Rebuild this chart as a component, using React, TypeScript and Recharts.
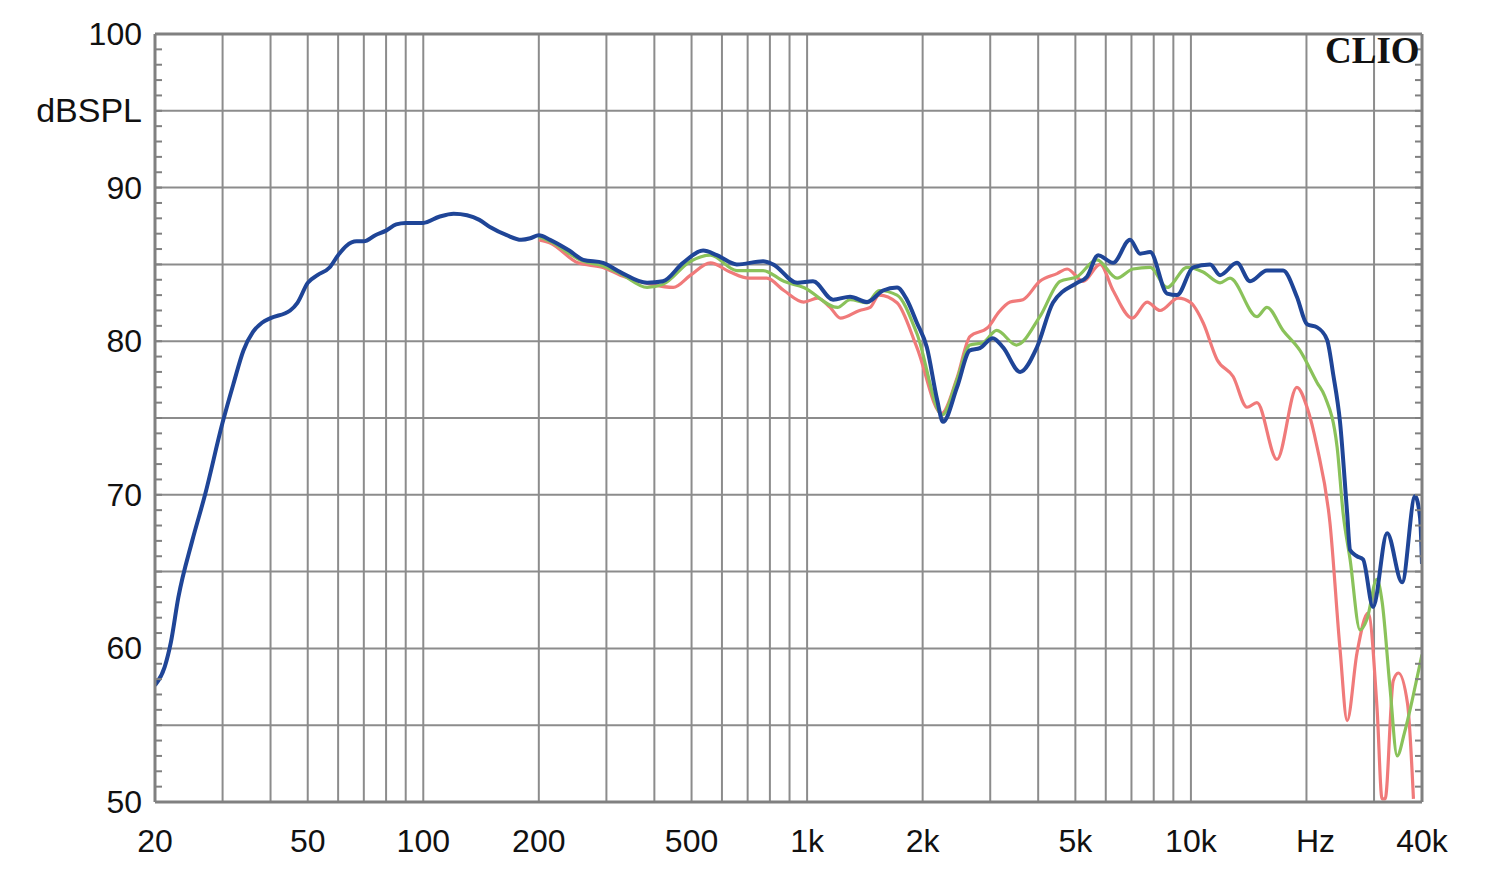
import React from 'react';
import { LineChart, Line, XAxis, YAxis, CartesianGrid } from 'recharts';

// Frequency response curves: [frequency Hz, dB SPL]
const blueCurve: [number, number][] = [
  [20, 57.6], [21.2, 58.8], [22, 60.4], [23, 63.3], [25, 67.0], [27, 70.0], [30, 74.7], [32, 77.2],
  [34, 79.4], [36, 80.6], [38, 81.2], [40, 81.5], [45, 82.0], [47, 82.5], [50, 83.8], [53, 84.3],
  [57, 84.8], [60, 85.6], [63, 86.2], [67, 86.5], [70, 86.5], [75, 86.9], [80, 87.2], [85, 87.6],
  [90, 87.7], [100, 87.7], [110, 88.1], [120, 88.3], [130, 88.2], [140, 87.9], [150, 87.4],
  [165, 86.9], [180, 86.6], [190, 86.7], [200, 86.9], [214, 86.6], [240, 85.9], [261, 85.3],
  [294, 85.1], [326, 84.5], [383, 83.8], [421, 83.9], [475, 85.1], [536, 85.9], [582, 85.6],
  [656, 85.0], [768, 85.2], [815, 85.0], [942, 83.8], [1036, 83.9], [1169, 82.7], [1294, 82.9],
  [1433, 82.55], [1577, 83.3], [1715, 83.5], [1820, 82.7], [1932, 81.2], [2051, 79.6], [2181, 76.2],
  [2260, 74.75], [2458, 77.0], [2655, 79.4], [2819, 79.55], [3047, 80.2], [3240, 79.6], [3590, 78.0],
  [3970, 79.6], [4370, 82.5], [5050, 83.8], [5360, 84.2], [5730, 85.6], [6270, 85.1], [6940, 86.6],
  [7370, 85.7], [7830, 85.8], [8670, 83.1], [9200, 83.0], [10130, 84.8], [11220, 85.0], [11910, 84.3],
  [13180, 85.1], [14260, 83.9], [15780, 84.6], [17380, 84.6], [18880, 82.9], [20070, 81.1],
  [21320, 80.9], [22630, 80.1], [23460, 77.9], [24470, 74.7], [25530, 68.8], [25980, 66.4],
  [27080, 66.0], [28080, 65.8], [29820, 62.7], [32450, 67.5], [35500, 64.3], [38380, 69.9],
  [39540, 68.5], [40000, 65.5],
];

const greenCurve: [number, number][] = [
  [200, 86.8], [214, 86.5], [261, 85.2], [294, 84.9], [326, 84.4], [383, 83.5], [421, 83.7],
  [497, 85.2], [560, 85.6], [656, 84.6], [768, 84.6], [870, 83.9], [980, 83.5], [1200, 82.2],
  [1294, 82.7], [1433, 82.5], [1540, 83.3], [1715, 83.0], [1932, 80.5], [2250, 75.2], [2458, 77.5],
  [2655, 79.75], [2870, 79.9], [3120, 80.7], [3510, 79.75], [4040, 81.6], [4560, 83.9], [5050, 84.2],
  [5690, 85.3], [6420, 84.1], [7060, 84.7], [7830, 84.8], [8670, 83.5], [9770, 84.8], [10760, 84.5],
  [11910, 83.8], [12640, 84.1], [14860, 81.6], [15780, 82.2], [17380, 80.7], [19230, 79.4],
  [21320, 77.3], [22340, 76.4], [24040, 73.1], [24920, 68.8], [25980, 65.8], [27580, 61.2],
  [28760, 61.9], [30500, 64.5], [31500, 63.0], [33000, 57.5], [34460, 53.0], [36000, 54.5],
  [38000, 57.0], [40000, 59.6],
];

const redCurve: [number, number][] = [
  [200, 86.6], [214, 86.4], [253, 85.1], [294, 84.8], [326, 84.3], [393, 83.7], [448, 83.5],
  [497, 84.3], [560, 85.1], [630, 84.5], [705, 84.1], [785, 84.1], [870, 83.3], [980, 82.55],
  [1065, 82.8], [1148, 82.2], [1222, 81.5], [1370, 82.0], [1460, 82.2], [1540, 83.0], [1715, 82.5],
  [1932, 79.6], [2240, 75.3], [2458, 77.6], [2655, 80.3], [2960, 80.9], [3160, 81.9], [3380, 82.55],
  [3650, 82.7], [4040, 83.9], [4480, 84.4], [4760, 84.7], [5240, 83.9], [5800, 85.0], [6270, 83.3],
  [7030, 81.5], [7690, 82.55], [8310, 82.0], [9260, 82.8], [10000, 82.5], [10760, 81.2],
  [11700, 78.8], [12880, 77.7], [14000, 75.7], [14860, 76.0], [16760, 72.3], [18880, 77.0],
  [20070, 75.7], [21320, 73.1], [23020, 68.2], [24470, 59.9], [25530, 55.3], [27080, 59.7],
  [28940, 62.3], [30560, 56.0], [31480, 50.2], [32060, 50.2], [33660, 57.9], [34720, 58.4],
  [36680, 56.4], [38000, 50.2],
];

const gridFreqs = [30, 40, 50, 60, 70, 80, 90, 100, 200, 300, 400, 500, 600, 700, 800, 900, 1000,
  2000, 3000, 4000, 5000, 6000, 7000, 8000, 9000, 10000, 20000, 30000];
const gridDb = [55, 60, 65, 70, 75, 80, 85, 90, 95];
const xTickValues = [20, 50, 100, 200, 500, 1000, 2000, 5000, 10000, 20000, 40000];
const xTickLabels = ['20', '50', '100', '200', '500', '1k', '2k', '5k', '10k', 'Hz', '40k'];
const yMinorTicks = Array.from({ length: 51 }, (_, i) => 50 + i);
const yLabelValues = [50, 60, 70, 80, 90, 100];
const yUnitValue = 95;
const yUnitLabel = 'dBSPL';

const toPoints = (c: [number, number][]) => c.map(([f, db]) => ({ f, db }));
const blueData = toPoints(blueCurve);
const greenData = toPoints(greenCurve);
const redData = toPoints(redCurve);

const FONT = 'Arial, "Liberation Sans", sans-serif';
const FRAME = '#808080';

const LeftTick = (props: any) => {
  const { x, y, payload } = props;
  const v = payload.value;
  const isUnit = v === yUnitValue;
  const label = yLabelValues.includes(v) ? String(v) : isUnit ? yUnitLabel : null;
  return (
    <g>
      <line x1={x} x2={x + 7} y1={y} y2={y} stroke={FRAME} strokeWidth={2} />
      {label && (
        <text x={x - 13} y={y} dy={11} textAnchor="end" fontFamily={FONT} fontSize={isUnit ? 34 : 32} fill="#111">
          {label}
        </text>
      )}
    </g>
  );
};

const RightTick = (props: any) => {
  const { x, y } = props;
  return <line x1={x - 7} x2={x} y1={y} y2={y} stroke={FRAME} strokeWidth={2} />;
};

const BottomTick = (props: any) => {
  const { x, y, payload } = props;
  const idx = xTickValues.indexOf(payload.value);
  const label = xTickLabels[idx];
  const dx = label === 'Hz' ? 9 : 0;
  return (
    <text x={x + dx} y={y} dy={50} textAnchor="middle" fontFamily={FONT} fontSize={32} fill="#111">
      {label}
    </text>
  );
};

export default function App() {
  return (
    <div style={{ position: 'absolute', left: 0, top: 0, width: 1500, height: 870, background: '#fff' }}>
      <LineChart width={1500} height={870} margin={{ top: 33, right: 77, left: 0, bottom: 0 }}>
        <CartesianGrid
          verticalValues={gridFreqs}
          horizontalValues={gridDb}
          stroke="#8c8c8c"
          strokeWidth={2}
        />
        <XAxis
          dataKey="f"
          type="number"
          scale="log"
          domain={[20, 40000]}
          allowDataOverflow
          ticks={xTickValues}
          interval={0}
          tick={<BottomTick />}
          tickLine={false}
          tickSize={0}
          tickMargin={0}
          height={68}
          axisLine={{ stroke: FRAME, strokeWidth: 3 }}
        />
        <XAxis
          xAxisId="top"
          orientation="top"
          dataKey="f"
          type="number"
          scale="log"
          domain={[20, 40000]}
          allowDataOverflow
          ticks={xTickValues}
          tick={false}
          tickLine={false}
          height={1}
          axisLine={{ stroke: FRAME, strokeWidth: 3 }}
        />
        <YAxis
          type="number"
          domain={[50, 100]}
          allowDataOverflow
          ticks={yMinorTicks}
          interval={0}
          tick={<LeftTick />}
          tickLine={false}
          tickSize={0}
          tickMargin={0}
          width={155}
          axisLine={{ stroke: FRAME, strokeWidth: 3 }}
        />
        <YAxis
          yAxisId="right"
          orientation="right"
          type="number"
          domain={[50, 100]}
          allowDataOverflow
          ticks={yMinorTicks}
          interval={0}
          tick={<RightTick />}
          tickLine={false}
          tickSize={0}
          tickMargin={0}
          width={1}
          axisLine={{ stroke: FRAME, strokeWidth: 3 }}
        />
        <Line data={redData} dataKey="db" type="monotone" stroke="#f07a7a" strokeWidth={3.2} dot={false} isAnimationActive={false} />
        <Line data={greenData} dataKey="db" type="monotone" stroke="#8ac25a" strokeWidth={3.2} dot={false} isAnimationActive={false} />
        <Line data={blueData} dataKey="db" type="monotone" stroke="#1f4597" strokeWidth={4} dot={false} isAnimationActive={false} />
      </LineChart>
      <div
        style={{
          position: 'absolute',
          left: 1325,
          top: 32,
          fontFamily: '"Liberation Serif", "DejaVu Serif", serif',
          fontWeight: 'bold',
          fontSize: 37,
          lineHeight: '37px',
          color: '#111',
        }}
      >
        CLIO
      </div>
    </div>
  );
}
